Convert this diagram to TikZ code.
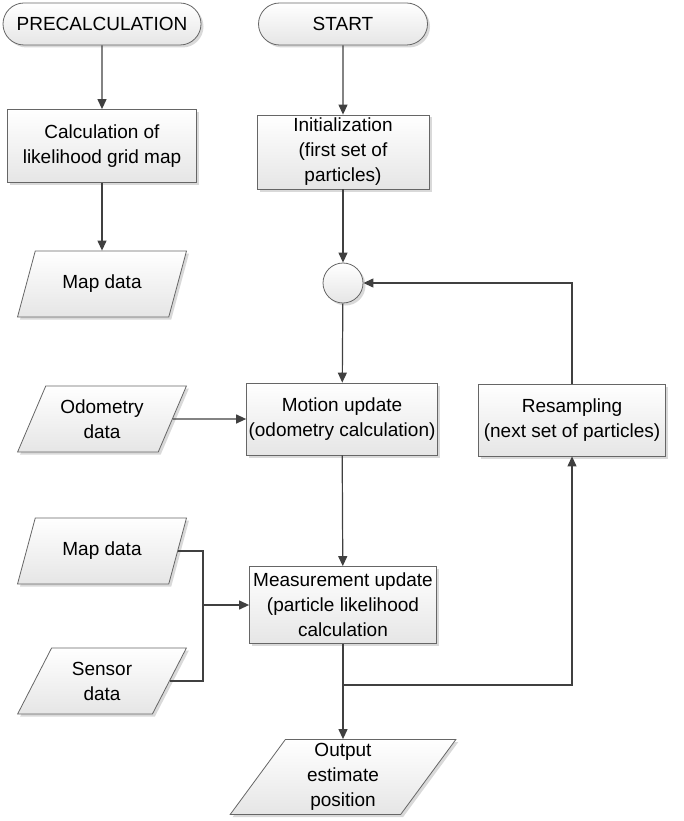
\documentclass[tikz,border=0pt]{standalone}
\usepackage{fontspec}
\setmainfont{Liberation Sans}
\usetikzlibrary{shapes.geometric,shapes.misc,shadows,arrows.meta}
\begin{document}
\begin{tikzpicture}[x=1pt,y=-1pt,
  font=\fontsize{19}{25}\selectfont,
  base/.style={draw=black!60, line width=0.8pt, top color=white, bottom color=black!10,
    align=center, inner sep=2pt,
    drop shadow={shadow xshift=2.5pt, shadow yshift=-2.5pt, fill=black!25, opacity=0.6}},
  terminal/.style={base, rounded rectangle, minimum height=42pt},
  procbox/.style={base, rectangle, minimum width=#1, minimum height=73pt},
  databox/.style={base, trapezium, trapezium left angle=63, trapezium right angle=117,
    trapezium stretches=true, minimum width=#1, minimum height=66pt},
  conn/.style={draw=black!75, line width=1.2pt},
  arr/.style={conn, -{Triangle[length=10pt,width=9pt]}}
]
\useasboundingbox (0,0) rectangle (683,821);

\node[terminal, minimum width=202pt] (pre) at (102,24) {PRECALCULATION};
\node[terminal, minimum width=173pt] (start) at (343,24) {START};
\node[procbox=189pt] (calc) at (102,146) {Calculation of\\likelihood grid map};
\node[databox=169pt] (map1) at (102,284) {Map data};
\node[procbox=172pt, minimum height=74pt] (init) at (343,152) {Initialization\\(first set of\\particles)};
\node[base, circle, minimum size=40pt] (join) at (343,283) {};
\node[procbox=188pt, minimum height=72pt] (motion) at (342,419) {Motion update\\(odometry calculation)};
\node[procbox=187pt, minimum height=72pt] (resamp) at (572,420) {Resampling\\(next set of particles)};
\node[databox=169pt] (odo) at (102,419) {Odometry\\data};
\node[databox=169pt] (map2) at (102,551) {Map data};
\node[databox=169pt] (sensor) at (102,681) {Sensor\\data};
\node[procbox=187pt, minimum height=77pt] (meas) at (343,605) {Measurement update\\(particle likelihood\\calculation};
\node[databox=226pt, minimum height=75pt] (out) at (343,777) {Output\\estimate\\position};

\coordinate (mj) at (203,605);
\coordinate (split) at (343,685);

\draw[arr] (pre) -- (calc);
\draw[arr] (calc) -- (map1);
\draw[arr] (start) -- (init);
\draw[arr] (init) -- (join);
\draw[arr] (join) -- (motion);
\draw[arr] (odo) -- (motion);
\draw[arr] (motion) -- (meas);
\draw[conn] (map2.east) -| (mj);
\draw[conn] (sensor.east) -| (mj);
\draw[arr] (mj) -- (meas);
\draw[arr] (meas) -- (out);
\draw[arr] (split) -| (resamp.south);
\draw[arr] (resamp.north) |- (join.east);
\end{tikzpicture}
\end{document}
